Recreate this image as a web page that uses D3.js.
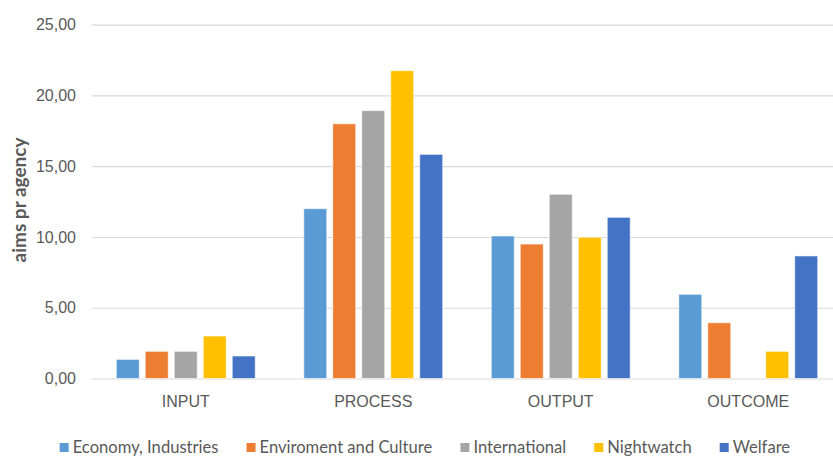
<!DOCTYPE html>
<html>
<head>
<meta charset="utf-8">
<script src="https://cdn.jsdelivr.net/npm/d3@7"></script>
<style>
  html, body { margin: 0; padding: 0; background: #fff; }
  svg { display: block; font-family: Lato, "Open Sans", sans-serif; }
</style>
</head>
<body>
<svg id="chart" width="833" height="457"></svg>
<script>
// Stages on the x axis
const categories = ["INPUT", "PROCESS", "OUTPUT", "OUTCOME"];
// Agency groups (legend order)
const seriesNames = ["Economy, Industries", "Enviroment and Culture", "International", "Nightwatch", "Welfare"];
const seriesColors = ["#5B9BD5", "#ED7D31", "#A5A5A5", "#FFC000", "#4472C4"];
// Aims per agency, one array per group, in category order
const economy = [1.35, 12.0, 10.07, 5.95];
const enviroment = [1.92, 18.0, 9.5, 3.94];
const international = [1.92, 18.93, 13.02, 0];
const nightwatch = [3.0, 21.75, 9.98, 1.92];
const welfare = [1.59, 15.84, 11.39, 8.66];
const seriesValues = [economy, enviroment, international, nightwatch, welfare];
// Value axis ticks
const yTicks = [0, 5, 10, 15, 20, 25];

const svg = d3.select("#chart");
const plot = { left: 92, right: 842, top: 24.7, bottom: 378.5 };

const x0 = d3.scaleBand().domain(categories).range([plot.left, plot.right])
  .paddingInner(0.259).paddingOuter(0.1295);
const x1 = d3.scaleBand().domain(seriesNames).range([0, x0.bandwidth()])
  .paddingInner(0.207).paddingOuter(0);
const y = d3.scaleLinear().domain([0, 25]).range([plot.bottom, plot.top]);

const fmt = v => d3.format(".2f")(v).replace(".", ",");

// Gridlines and tick labels
const yAxis = d3.axisLeft(y).tickValues(yTicks).tickFormat(fmt)
  .tickSize(-(plot.right - plot.left)).tickPadding(16);
const gy = svg.append("g").attr("transform", `translate(${plot.left},0)`).call(yAxis);
gy.select(".domain").remove();
gy.selectAll(".tick line").attr("stroke", "#D9D9D9").attr("stroke-width", 1.2);
gy.selectAll(".tick text").attr("fill", "#595959").attr("font-size", 16);

// Bars
const rows = categories.map((c, i) => ({ cat: c, vals: seriesNames.map((s, j) => ({ s, j, v: seriesValues[j][i] })) }));
const groups = svg.append("g").selectAll("g").data(rows).join("g")
  .attr("transform", d => `translate(${x0(d.cat)},0)`);
groups.selectAll("rect").data(d => d.vals.filter(e => e.v > 0)).join("rect")
  .attr("x", d => x1(d.s))
  .attr("y", d => y(d.v))
  .attr("width", x1.bandwidth())
  .attr("height", d => y(0) - y(d.v))
  .attr("fill", d => seriesColors[d.j])
  .attr("stroke", "#ffffff").attr("stroke-opacity", 0.6).attr("stroke-width", 1);

// Category axis
const xAxis = d3.axisBottom(x0).tickSize(0).tickPadding(17);
const gx = svg.append("g").attr("transform", `translate(0,${plot.bottom})`).call(xAxis);
gx.select(".domain").remove();
gx.selectAll(".tick text").attr("fill", "#595959").attr("font-size", 16);

// Value axis title
svg.append("text")
  .attr("transform", `translate(26,200) rotate(-90)`)
  .attr("text-anchor", "middle")
  .attr("fill", "#595959").attr("font-size", 19).attr("font-weight", "bold")
  .text("aims pr agency");

// Legend
const legend = svg.append("g").attr("transform", `translate(0,453)`);
const items = legend.selectAll("g").data(seriesNames).join("g");
items.append("rect").attr("y", -10).attr("width", 9).attr("height", 9)
  .attr("fill", (d, i) => seriesColors[i]);
items.append("text").attr("x", 13).attr("y", 0)
  .attr("fill", "#595959").attr("font-size", 16.6).text(d => d);
const widths = [];
items.each(function () { widths.push(this.getBBox().width); });
const gap = 28;
const total = d3.sum(widths) + gap * (widths.length - 1);
let cx = 425 - total / 2;
items.attr("transform", (d, i) => { const t = `translate(${cx},0)`; cx += widths[i] + gap; return t; });
</script>
</body>
</html>
